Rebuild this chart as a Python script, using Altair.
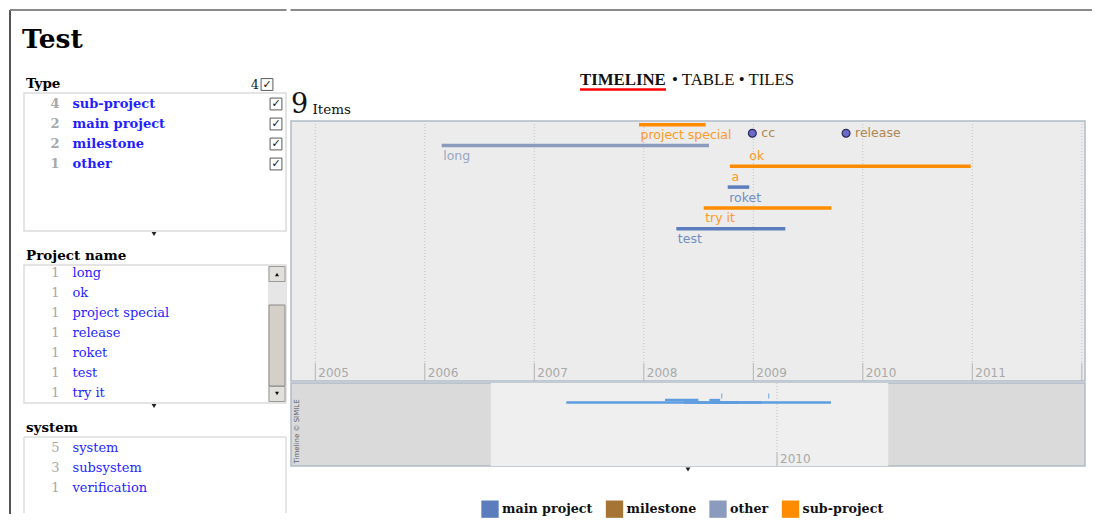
import altair as alt
import pandas as pd

# ---------------- data ----------------
type_names = ["sub-project", "main project", "milestone", "other"]
type_counts = [4, 2, 2, 1]
type_total = "4"

project_names = ["a", "cc", "long", "ok", "project special", "release", "roket", "test", "try it"]
project_counts = [1, 1, 1, 1, 1, 1, 1, 1, 1]

system_names = ["system", "subsystem", "verification"]
system_counts = [5, 3, 1]

event_names = ["project special", "long", "cc", "release", "ok", "a", "roket", "try it", "test"]
event_types = ["sub-project", "other", "milestone", "milestone", "sub-project",
               "sub-project", "main project", "sub-project", "main project"]
event_start = [2007.956, 2006.154, 2008.991, 2009.847, 2008.95, 2008.786, 2008.766, 2008.547, 2008.297]
event_end = [2008.565, 2008.595, 2008.991, 2009.847, 2008.95, 2010.985, 2008.963, 2009.712, 2009.292]
event_lane = [0, 1, 0.41, 0.41, 1, 2, 3, 4, 5]
overview_lane = [0, 1, -1.6, -1.6, 1, 1, 0, 1, 1]

legend_types = ["main project", "milestone", "other", "sub-project"]
legend_colors = ["#5b7dbd", "#a67535", "#8a9bbd", "#ff8c00"]

main_years = [2004, 2005, 2006, 2007, 2008, 2009, 2010, 2011, 2012]
overview_decades = [2000, 2010, 2020]
main_range = [2004.778, 2012.029]
overview_range = [2001.131, 2015.62]

page_title = "Test"
view_tabs = ["TIMELINE", "• TABLE • TILES"]
item_count = "9"
item_word = "Items"
credit = "Timeline © SIMILE"

# ---------------- styling ----------------
SERIF = "DejaVu Serif"
TIMES = "Liberation Serif"
SANS = "DejaVu Sans"
ROW = 20
BOX_W = 262
BAND_W = 794
BORDER = "#dcdcdc"
BAND_BORDER = "#b0bac8"


def one(text):
    return pd.DataFrame({"t": [text]})


def label(text, x, y, **kw):
    return alt.Chart(one(text)).mark_text(**kw).encode(
        x=alt.value(x), y=alt.value(y), text="t:N")


def vrule(x, y, y2, **kw):
    return alt.Chart(one("")).mark_rule(**kw).encode(
        x=alt.value(x), y=alt.value(y), y2=alt.value(y2))


def hrule(x, x2, y, **kw):
    return alt.Chart(one("")).mark_rule(**kw).encode(
        x=alt.value(x), x2=alt.value(x2), y=alt.value(y))


def box_rect(x, x2, y, y2, **kw):
    return alt.Chart(one("")).mark_rect(**kw).encode(
        x=alt.value(x), x2=alt.value(x2), y=alt.value(y), y2=alt.value(y2))


def glyph(x, y, shape, size, **kw):
    return alt.Chart(one("")).mark_point(shape=shape, size=size, filled=True, opacity=1, **kw).encode(
        x=alt.value(x), y=alt.value(y))


def lin(domain, reverse=False):
    return alt.Scale(domain=domain, reverse=reverse, nice=False, zero=False, padding=0)


def facet_box(header, names, counts, height, first, bold, checks=False,
              header_count=None, extra=(), open_bottom=False, arrow=True):
    df = pd.DataFrame({"name": names, "count": [str(c) for c in counts],
                       "idx": list(range(len(names)))})
    y = alt.Y("idx:Q", scale=lin([first, first + height / ROW], reverse=True), axis=None)
    weight = "bold" if bold else "normal"
    # rows scrolled out of the list window are not drawn
    base = alt.Chart(df).transform_filter(f"datum.idx >= {first}")
    layers = list(extra)
    layers.append(label(header, 2, -5, align="left", baseline="alphabetic", font=SERIF,
                        fontSize=13.5, fontWeight="bold", color="#000000"))
    layers.append(base.mark_text(align="right", baseline="middle", font=SERIF, fontSize=13,
                                 fontWeight=weight, color="#a8a8a8", clip=True)
                  .encode(x=alt.value(35.5), y=y, text="count:N"))
    layers.append(base.mark_text(align="left", baseline="middle", font=SERIF, fontSize=13,
                                 fontWeight=weight, color="#1f1fff", clip=True)
                  .encode(x=alt.value(48.5), y=y, text="name:N"))
    if checks:
        layers.append(base.mark_point(shape="square", size=140, filled=True, fill="white",
                                      stroke="#5a5a5a", strokeWidth=1, opacity=1)
                      .encode(x=alt.value(252), y=y))
        layers.append(base.mark_text(text="✓", align="center", baseline="middle", font=SANS,
                                     fontSize=11, fontWeight="bold", color="#111111")
                      .encode(x=alt.value(252), y=y))
    if header_count is not None:
        layers.append(label(header_count, 235, -4.5, align="right", baseline="alphabetic",
                            font=SERIF, fontSize=13, color="#222222"))
        layers.append(glyph(243, -8.5, "square", 140, fill="white", stroke="#5a5a5a", strokeWidth=1))
        layers.append(label("✓", 243, -8.5, align="center", baseline="middle", font=SANS,
                            fontSize=11, fontWeight="bold", color="#111111"))
    if arrow:
        layers.append(glyph(130, height + 3, "triangle-down", 24, color="#222222"))
    if open_bottom:
        layers.append(hrule(0, BOX_W, 0, color=BORDER, strokeWidth=1.5))
        layers.append(vrule(0, 0, height, color=BORDER, strokeWidth=1.5))
        layers.append(vrule(BOX_W, 0, height, color=BORDER, strokeWidth=1.5))
        view = alt.ViewBackground(fill="white", stroke=None)
    else:
        view = alt.ViewBackground(fill="white", stroke=BORDER, strokeWidth=1.5)
    return alt.layer(*layers).properties(width=BOX_W, height=height, view=view)


# ---- left column (page frame + page title live here) ----
frame_and_title = [
    vrule(-14, -83, 421, color="#555555", strokeWidth=2),
    hrule(-14, 262.5, -83, color="#8a8a8a", strokeWidth=2),
    label(page_title, -2, -45, align="left", baseline="alphabetic", font=SERIF,
          fontSize=26.5, fontWeight="bold", color="#000000"),
]
type_box = facet_box("Type", type_names, type_counts, 138, -0.55, True, checks=True,
                     header_count=type_total, extra=frame_and_title)

scrollbar = [
    box_rect(244, 262, 1, 137, color="#e6e6e6"),
    box_rect(245, 261, 40, 121, fill="#d4d0c8", stroke="#8a8a8a", strokeWidth=1),
    box_rect(245, 261, 1.5, 16.5, fill="#e2e0da", stroke="#9a9a9a", strokeWidth=1),
    box_rect(245, 261, 121.5, 136.5, fill="#e2e0da", stroke="#9a9a9a", strokeWidth=1),
    glyph(253, 9.5, "triangle-up", 16, color="#111111"),
    glyph(253, 128.5, "triangle-down", 16, color="#111111"),
]
proj_box = facet_box("Project name", project_names, project_counts, 138, 1.585, False,
                     extra=scrollbar)
sys_box = facet_box("system", system_names, system_counts, 76, -0.55, False,
                    open_bottom=True, arrow=False)

left = alt.vconcat(type_box, proj_box, sys_box, spacing=34, bounds="flush")

# ---- right column: header ----
header = alt.layer(
    hrule(-0.5, 801, -83, color="#8a8a8a", strokeWidth=2),
    label(view_tabs[0], 289, -7.7, align="left", baseline="alphabetic", font=TIMES,
          fontSize=16.8, fontWeight="bold", color="#111111"),
    label(view_tabs[1], 381, -7.7, align="left", baseline="alphabetic", font=TIMES,
          fontSize=16.8, color="#111111"),
    hrule(289, 375, -3.5, color="#ff0000", strokeWidth=2.5),
    label(item_count, 0, 20, align="left", baseline="alphabetic", font=SERIF,
          fontSize=27, color="#111111"),
    label(item_word, 21.5, 20.5, align="left", baseline="alphabetic", font=SERIF,
          fontSize=13.5, color="#111111"),
).properties(width=BAND_W, height=26, view=alt.ViewBackground(stroke=None, fill=None))

# ---- right column: main timeline band ----
ev = pd.DataFrame({"name": event_names, "type": event_types, "start": event_start,
                   "end": event_end, "lane": event_lane, "olane": overview_lane})
years_df = pd.DataFrame({"year": main_years, "label": [str(v) for v in main_years]})

mx = lin(main_range)
lane0 = -3.7 / 20.8
my = lin([lane0, lane0 + 260 / 20.8], reverse=True)

LEG = alt.Legend(orient="none", legendX=457, legendY=407, direction="horizontal", title=None,
                 symbolType="square", symbolSize=300, symbolStrokeWidth=0, symbolOpacity=1,
                 labelFont=SERIF, labelFontSize=12.7, labelFontWeight="bold", labelColor="#111111",
                 labelOffset=3, columnPadding=12.5, padding=0)
color = alt.Color("type:N", scale=alt.Scale(domain=legend_types, range=legend_colors), legend=LEG)

X_main = alt.X("year:Q", scale=mx, axis=None)
grid_dotted = alt.Chart(years_df).mark_rule(color="#c4c4c4", strokeDash=[1, 2], strokeWidth=1,
                                            clip=True).encode(x=X_main, y=alt.value(0), y2=alt.value(242))
grid_solid = alt.Chart(years_df).mark_rule(color="#b4b4b4", strokeWidth=1, clip=True).encode(
    x=X_main, y=alt.value(242), y2=alt.value(260))
year_text = alt.Chart(years_df).transform_filter(
    f"datum.year >= {main_range[0]} && datum.year + 0.3 <= {main_range[1]}"
).mark_text(align="left", baseline="middle", dx=3, font=SANS, fontSize=12, color="#a9a9a9",
            clip=True).encode(x=X_main, y=alt.value(251.7), text="label:N")

tapes = alt.Chart(ev).transform_filter("datum.type != 'milestone'")
bars = tapes.mark_bar(size=3.5, clip=True).encode(
    x=alt.X("start:Q", scale=mx, axis=None), x2="end:Q",
    y=alt.Y("lane:Q", scale=my, axis=None), color=color)
tape_labels = tapes.mark_text(align="left", baseline="middle", dx=1.5, dy=10.5, font=SANS,
                              fontSize=12.5, opacity=0.85, clip=True).encode(
    x=alt.X("start:Q", scale=mx, axis=None), y=alt.Y("lane:Q", scale=my, axis=None),
    text="name:N", color=color)
stones = alt.Chart(ev).transform_filter("datum.type == 'milestone'")
stone_pts = stones.mark_point(shape="circle", filled=True, size=62, fill="#6b6bc8",
                              stroke="#2b2b58", strokeWidth=1.2, opacity=1).encode(
    x=alt.X("start:Q", scale=mx, axis=None), y=alt.Y("lane:Q", scale=my, axis=None))
stone_labels = stones.mark_text(align="left", baseline="middle", dx=9, font=SANS, fontSize=12.5,
                                opacity=0.85, clip=True).encode(
    x=alt.X("start:Q", scale=mx, axis=None), y=alt.Y("lane:Q", scale=my, axis=None),
    text="name:N", color=color)

main = alt.layer(grid_dotted, grid_solid, year_text, bars, tape_labels, stone_pts, stone_labels).properties(
    width=BAND_W, height=260,
    view=alt.ViewBackground(fill="#ececec", stroke=BAND_BORDER, strokeWidth=1.5))

# ---- right column: overview band ----
ox = lin(overview_range)
oy = lin([-6.8, -6.8 + 83 / 2.5], reverse=True)
dec_df = pd.DataFrame({"year": overview_decades, "label": [str(v) for v in overview_decades]})
X_ov = alt.X("year:Q", scale=ox, axis=None)

highlight = alt.Chart(pd.DataFrame({"x0": [main_range[0]], "x1": [main_range[1]]})).mark_rect(
    color="#efefef", clip=True).encode(
    x=alt.X("x0:Q", scale=ox, axis=None), x2="x1:Q", y=alt.value(0), y2=alt.value(83))
ov_dotted = alt.Chart(dec_df).mark_rule(color="#c0c0c0", strokeDash=[1, 2], clip=True).encode(
    x=X_ov, y=alt.value(0), y2=alt.value(69))
ov_solid = alt.Chart(dec_df).mark_rule(color="#b0b0b0", clip=True).encode(
    x=X_ov, y=alt.value(69), y2=alt.value(83))
ov_text = alt.Chart(dec_df).transform_filter(
    f"datum.year >= {overview_range[0]} && datum.year + 0.6 <= {overview_range[1]}"
).mark_text(align="left", baseline="middle", dx=3, font=SANS, fontSize=12, color="#a9a9a9",
            clip=True).encode(x=X_ov, y=alt.value(75.5), text="label:N")
ov_bars = tapes.mark_rule(strokeWidth=2.3, color="#5e9ddf", clip=True).encode(
    x=alt.X("start:Q", scale=ox, axis=None), x2="end:Q",
    y=alt.Y("olane:Q", scale=oy, axis=None))
ov_ticks = stones.mark_tick(orient="vertical", size=5, thickness=1.3, color="#5e9ddf", clip=True).encode(
    x=alt.X("start:Q", scale=ox, axis=None), y=alt.Y("olane:Q", scale=oy, axis=None))
ov_credit = label(credit, 6, 48.5, align="center", baseline="middle", angle=270, font=SANS,
                  fontSize=7, color="#59606e")
ov_arrow = glyph(397, 86.5, "triangle-down", 24, color="#222222")

overview = alt.layer(highlight, ov_dotted, ov_solid, ov_text, ov_bars, ov_ticks, ov_credit, ov_arrow).properties(
    width=BAND_W, height=83,
    view=alt.ViewBackground(fill="#dadada", stroke=BAND_BORDER, strokeWidth=1.5))

right = alt.vconcat(header, main, overview, spacing=2, bounds="flush")

chart = alt.hconcat(left, right, spacing=0).properties(
    padding={"left": 0, "top": 0, "right": 0, "bottom": 0}
).configure(background="white")

chart.save("out.html", embed_options={"renderer": "svg", "actions": False})
